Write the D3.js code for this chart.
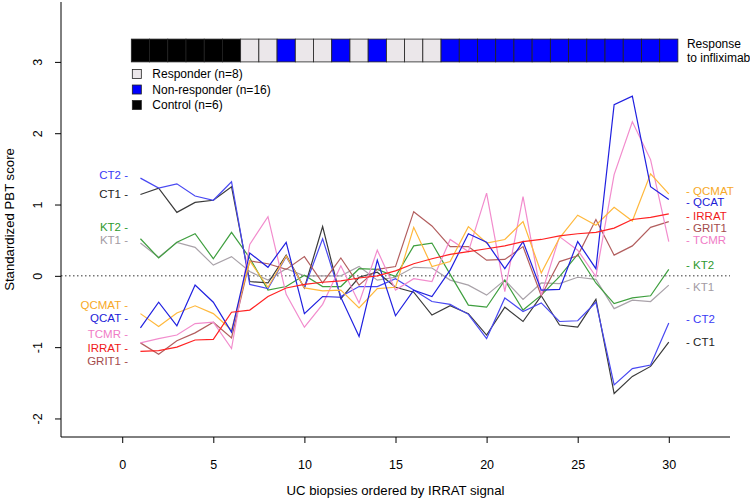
<!DOCTYPE html>
<html>
<head>
<meta charset="utf-8">
<script src="https://cdn.jsdelivr.net/npm/d3@7"></script>
<style>
  html, body { margin: 0; padding: 0; background: #fff; }
  svg { display: block; font-family: "Liberation Sans", Arial, sans-serif; }
</style>
</head>
<body>
<svg id="chart" width="750" height="502"></svg>
<script>
// ---------------- data ----------------
const samples = [1,2,3,4,5,6,7,8,9,10,11,12,13,14,15,16,17,18,19,20,21,22,23,24,25,26,27,28,29,30];
const response = ["C","C","C","C","C","C","R","R","N","R","R","N","R","N","R","R","R","N","N","N","N","N","N","N","N","N","N","N","N","N"];
const seriesNames = ["KT1","KT2","CT1","CT2","GRIT1","TCMR","QCMAT","QCAT","IRRAT"];
const CT2   = [1.37,1.23,1.29,1.12,1.06,1.32,-0.12,-0.18,0.27,-0.17,0.52,-0.29,-0.15,-0.15,-0.04,-0.20,-0.36,-0.40,-0.54,-0.88,-0.31,-0.50,-0.38,-0.64,-0.63,-0.37,-1.53,-1.30,-1.25,-0.66];
const CT1   = [1.14,1.23,0.89,1.03,1.06,1.25,-0.08,-0.10,0.29,-0.17,0.69,-0.32,-0.02,0.05,-0.16,-0.23,-0.55,-0.42,-0.53,-0.83,-0.44,-0.64,-0.28,-0.69,-0.72,-0.33,-1.65,-1.41,-1.27,-0.93];
const KT2   = [0.52,0.25,0.47,0.59,0.24,0.61,0.25,-0.20,-0.15,0.01,-0.15,-0.15,0.10,0.09,-0.01,0.42,0.46,0.02,-0.41,-0.44,-0.06,-0.48,-0.27,-0.01,0.30,-0.10,-0.39,-0.31,-0.28,0.09];
const KT1   = [0.46,0.26,0.47,0.40,0.15,0.27,0.06,-0.06,0.10,0.00,0.00,0.00,0.13,-0.06,-0.02,0.12,0.11,-0.06,-0.13,-0.27,-0.06,-0.33,-0.10,-0.11,-0.02,-0.05,-0.46,-0.34,-0.36,-0.13];
const QCMAT = [-0.53,-0.71,-0.52,-0.42,-0.53,-0.76,0.21,-0.16,0.28,-0.17,-0.21,-0.20,-0.45,-0.18,-0.16,0.68,0.13,0.20,0.69,0.46,0.51,0.76,0.04,0.53,0.85,0.71,0.96,0.77,1.43,1.15];
const QCAT  = [-0.73,-0.37,-0.70,-0.13,-0.37,-0.79,0.32,0.12,0.47,-0.53,-0.29,-0.30,-0.85,0.22,-0.56,-0.20,-0.29,0.08,0.59,0.47,0.10,0.48,-0.20,-0.19,0.48,0.10,2.40,2.52,1.25,1.07];
const TCMR  = [-0.94,-0.88,-0.83,-0.67,-0.65,-1.02,0.44,0.83,-0.26,-0.72,-0.40,0.14,-0.38,0.36,-0.20,-0.04,-0.08,0.51,0.34,1.16,-0.22,1.11,-0.27,0.55,0.36,-0.01,1.42,2.16,1.63,0.48];
const IRRAT = [-1.06,-1.05,-1.00,-0.90,-0.89,-0.51,-0.48,-0.29,-0.17,-0.12,-0.09,-0.07,-0.03,0.00,0.07,0.17,0.24,0.30,0.34,0.38,0.42,0.48,0.51,0.56,0.59,0.61,0.67,0.79,0.82,0.87];
const GRIT1 = [-0.94,-1.10,-0.91,-0.80,-0.65,-0.87,0.21,0.17,0.09,0.27,-0.10,0.25,-0.13,0.09,0.13,0.90,0.70,0.41,0.41,0.22,0.23,0.41,-0.28,0.20,0.28,0.79,0.29,0.42,0.68,0.76];
const xTicks = [0,5,10,15,20,25,30];
const yTicks = [-2,-1,0,1,2,3];
const leftLabelOrder  = ["CT2","CT1","KT2","KT1","QCMAT","QCAT","TCMR","IRRAT","GRIT1"];
const leftLabelAt     = [1.42,1.15,0.69,0.50,-0.41,-0.59,-0.82,-1.01,-1.20];
const rightLabelOrder = ["QCMAT","QCAT","IRRAT","GRIT1","TCMR","KT2","KT1","CT2","CT1"];
const rightLabelAt    = [1.19,1.04,0.84,0.67,0.50,0.15,-0.15,-0.60,-0.93];
const legendLabels = ["Responder (n=8)","Non-responder (n=16)","Control (n=6)"];
const legendKeys   = ["R","N","C"];

const values = {CT2, CT1, KT2, KT1, QCMAT, QCAT, TCMR, IRRAT, GRIT1};
const lineColor = {CT2:"#4848f2", CT1:"#3a3a3a", KT2:"#3f9f3f", KT1:"#a9a2a9", QCMAT:"#ffb83c",
                   QCAT:"#2020e0", TCMR:"#f28ccd", IRRAT:"#ff2222", GRIT1:"#b25e5e"};
const labelColor = {CT2:"#3a3af5", CT1:"#222", KT2:"#2e9a2e", KT1:"#a39ba3", QCMAT:"#f7a928",
                   QCAT:"#1c1cd8", TCMR:"#f07cc6", IRRAT:"#f01a1a", GRIT1:"#a44c4c"};
const cellFill = {C:"#000000", R:"#ebe7ea", N:"#0000ff"};

// ---------------- layout ----------------
const svg = d3.select("#chart");
const x = d3.scaleLinear().domain([-3.36, 33.36]).range([61, 730]);
const y = d3.scaleLinear().domain([-2.26, 3.84]).range([437, 2]);
const font = "Liberation Sans, Arial, sans-serif";

// zero reference line
svg.append("line")
  .attr("x1", x.range()[0]).attr("x2", x.range()[1])
  .attr("y1", y(0)).attr("y2", y(0))
  .attr("stroke", "#333").attr("stroke-width", 1).attr("stroke-dasharray", "1.5,2.5");

// axes
const xAxis = svg.append("g").attr("transform", `translate(0,${y.range()[0]})`)
  .call(d3.axisBottom(x).tickValues(xTicks).tickSize(6).tickPadding(17).tickFormat(d3.format("d")));
const yAxis = svg.append("g").attr("transform", `translate(${x.range()[0]},0)`)
  .call(d3.axisLeft(y).tickValues(yTicks).tickSize(6).tickFormat(d => d < 0 ? "-" + Math.abs(d) : d));
[xAxis, yAxis].forEach(g => {
  g.selectAll(".tick line").attr("stroke", "#000");
  g.selectAll("text").attr("font-family", font).attr("font-size", 12.5).attr("fill", "#000");
});
xAxis.select(".domain").remove();
yAxis.select(".domain").remove();
// L-shaped frame
svg.append("path")
  .attr("d", `M${x.range()[0]},${y.range()[1]}V${y.range()[0]}H${x.range()[1]}`)
  .attr("fill", "none").attr("stroke", "#000").attr("stroke-width", 1);
yAxis.selectAll(".tick text")
  .attr("x", null).attr("dy", null)
  .attr("text-anchor", "middle")
  .attr("transform", "translate(-19,0) rotate(-90)");

// axis titles
svg.append("text").attr("x", (x.range()[0] + x.range()[1]) / 2).attr("y", 495)
  .attr("text-anchor", "middle").attr("font-size", 13.2).attr("font-family", font)
  .text("UC biopsies ordered by IRRAT signal");
svg.append("text")
  .attr("transform", `translate(14,${(y.range()[0] + y.range()[1]) / 2}) rotate(-90)`)
  .attr("text-anchor", "middle").attr("font-size", 13.2).attr("font-family", font)
  .text("Standardized PBT score");

// series lines
const line = d3.line().x((d, i) => x(samples[i])).y(d => y(d));
seriesNames.forEach(name => {
  svg.append("path").datum(values[name])
    .attr("d", line).attr("fill", "none")
    .attr("stroke", lineColor[name]).attr("stroke-width", 1.2)
    .attr("stroke-linejoin", "miter");
});

// response bar
const cellW = x(1) - x(0);
svg.append("g").selectAll("rect").data(response).join("rect")
  .attr("x", (d, i) => x(samples[i] - 0.5))
  .attr("y", y(3.32)).attr("width", cellW).attr("height", y(3) - y(3.32))
  .attr("fill", d => cellFill[d]).attr("stroke", "#222").attr("stroke-width", 0.8);
svg.append("text").attr("x", x(30.5) + 9).attr("y", y(3.16) - 2)
  .attr("font-size", 12).attr("font-family", font).text("Response");
svg.append("text").attr("x", x(30.5) + 9).attr("y", y(3.16) + 12)
  .attr("font-size", 12).attr("font-family", font).text("to infliximab");

// legend
const leg = svg.append("g").selectAll("g").data(legendLabels).join("g")
  .attr("transform", (d, i) => `translate(${x(0.5)},${y(2.83) + i * 15.5})`);
leg.append("rect").attr("x", 1).attr("y", -4.5).attr("width", 9).attr("height", 9)
  .attr("fill", (d, i) => cellFill[legendKeys[i]]).attr("stroke", "#222").attr("stroke-width", 0.8);
leg.append("text").attr("x", 21).attr("dy", "0.35em")
  .attr("font-size", 12).attr("font-family", font).text(d => d);

// series labels
svg.append("g").selectAll("text").data(leftLabelOrder).join("text")
  .attr("x", x(0.32)).attr("y", (d, i) => y(leftLabelAt[i])).attr("dy", "0.35em")
  .attr("text-anchor", "end").attr("font-size", 11.5).attr("font-family", font)
  .attr("fill", d => labelColor[d]).text(d => d + " -");
svg.append("g").selectAll("text").data(rightLabelOrder).join("text")
  .attr("x", x(30.95)).attr("y", (d, i) => y(rightLabelAt[i])).attr("dy", "0.35em")
  .attr("text-anchor", "start").attr("font-size", 11.5).attr("font-family", font)
  .attr("fill", d => labelColor[d]).text(d => "- " + d);
</script>
</body>
</html>
